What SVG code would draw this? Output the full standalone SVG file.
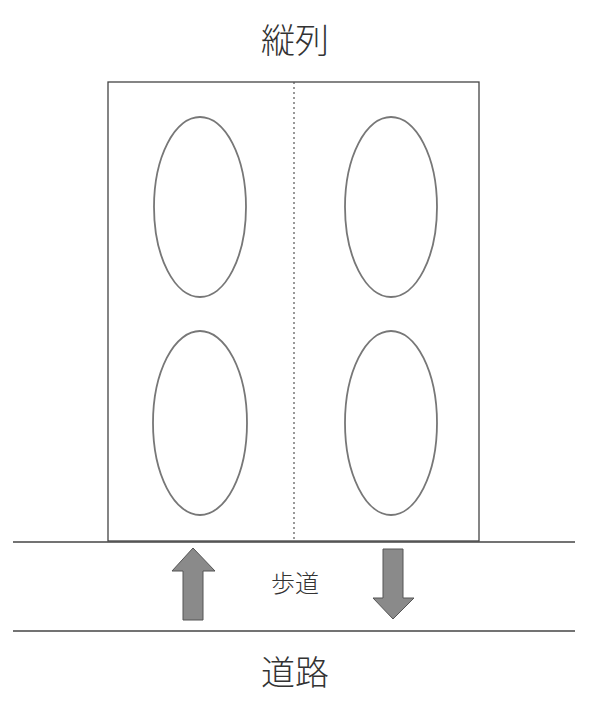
<svg xmlns="http://www.w3.org/2000/svg" width="590" height="710" viewBox="0 0 590 710">
<style>
.t{font-family:"Noto Sans CJK JP","Noto Sans CJK SC",sans-serif;fill:#333;text-anchor:middle;font-weight:300}
.ell{fill:none;stroke:#777;stroke-width:1.8}
.ln{stroke:#444;stroke-width:1.3;fill:none}
.arr{fill:#8a8a8a;stroke:#555;stroke-width:1}
</style>
<rect width="590" height="710" fill="#fff"/>
<g id="title"><text class="t" x="295" y="53" font-size="34">縦列</text></g>
<g id="building">
<rect class="ln" x="108" y="82" width="371" height="459"/>
<line x1="294" y1="82" x2="294" y2="541" stroke="#555" stroke-width="1.2" stroke-dasharray="2,3"/>
</g>
<g id="e1"><ellipse class="ell" cx="200" cy="207" rx="46" ry="90"/></g>
<g id="e2"><ellipse class="ell" cx="391" cy="207" rx="46" ry="90"/></g>
<g id="e3"><ellipse class="ell" cx="200" cy="423" rx="47" ry="92"/></g>
<g id="e4"><ellipse class="ell" cx="391" cy="423" rx="46" ry="92"/></g>
<g id="road">
<line class="ln" x1="13" y1="542" x2="575" y2="542"/>
<line class="ln" x1="13" y1="631" x2="575" y2="631"/>
</g>
<g id="arrow-up"><polygon class="arr" points="193,548 215,571 203,571 203,620 183,620 183,571 172,571"/></g>
<g id="arrow-down"><polygon class="arr" points="383,549 403,549 403,598 414,598 393,619 373,598 383,598"/></g>
<g id="sidewalk"><text class="t" x="295" y="592" font-size="24">歩道</text></g>
<g id="road-label"><text class="t" x="295" y="685" font-size="34">道路</text></g>
</svg>
